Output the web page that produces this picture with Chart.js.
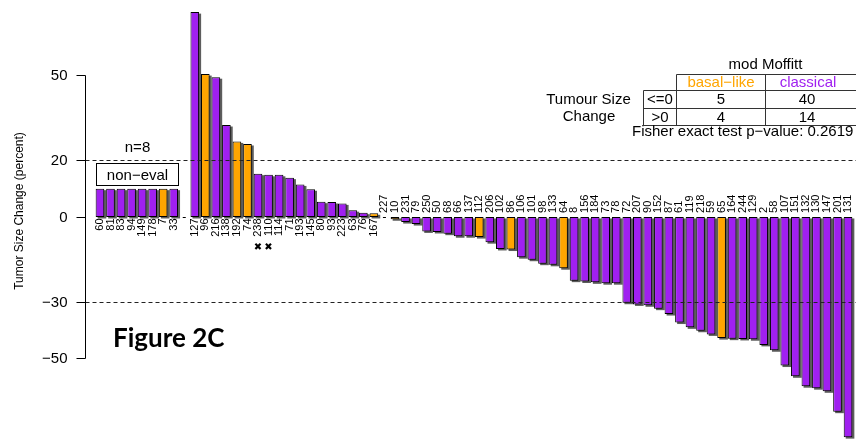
<!DOCTYPE html>
<html>
<head>
<meta charset="utf-8">
<script src="https://cdn.jsdelivr.net/npm/chart.js@4/dist/chart.umd.min.js"></script>
<style>
  html, body { margin: 0; padding: 0; background: #ffffff; }
  #wrap { width: 856px; height: 440px; position: relative; }
</style>
</head>
<body>
<div id="wrap"><canvas id="waterfall" width="856" height="440"></canvas></div>
<script>
// Patient IDs in plotting order: 8 non-evaluable, one empty spacer slot, then evaluable patients
const patientIds = [
  '60','81','83','94','149','178','7','33',
  '',
  '127','96','216','138','192','74','238','110','114','71','193','145','80','93','223','63','76','167',
  '227','10','231','79','250','50','68','66','137','112','206','102','86','106','101','98','133','64',
  '8','156','184','73','78','72','207','90','152','87','61','119','218','59','65','164','244','129',
  '2','58','107','151','132','130','147','201','131'
];

// Best change in tumour size (%); non-evaluable patients are drawn as placeholder bars at 10
const changePct = [
  10, 10, 10, 10, 10, 10, 10, 10,
  0,
  72.4, 50.5, 49.4, 32.5, 26.7, 25.8, 15.3, 14.9, 14.9, 13.9, 11.5, 9.8, 5.4, 5.3, 4.8, 2.4, 1.5, 1.3,
  0, -0.8, -1.8, -2.5, -5.1, -5.3, -5.9, -6.8, -6.8, -7.1, -8.9, -11.3, -11.5, -14.2, -15.1, -16.5, -16.9, -18.1,
  -22.5, -22.8, -23.1, -23.4, -23.4, -30.3, -30.9, -31.2, -32.4, -34.3, -37.3, -39.0, -40.2, -41.5, -42.8, -43.0, -43.1, -43.2,
  -45.2, -47.1, -52.5, -56.3, -59.8, -60.5, -61.6, -68.8, -77.8
];

// mod Moffitt subtype: B = basal-like, C = classical
const subtype = [
  'C','C','C','C','C','C','B','C',
  '',
  'C','B','C','C','B','B','C','C','C','C','C','C','C','C','C','C','C','B',
  'C','B','C','C','C','C','C','C','C','B','C','C','B','C','C','C','C','B',
  'C','C','C','C','C','C','C','C','C','C','C','C','C','C','B','C','C','C',
  'C','C','C','C','C','C','C','C','C'
];

const nonEvalCount = 8;
const flaggedIds = ['238', '110'];
const yTickValues = [50, 20, 0, -30, -50];
const refLineValues = [20, -30];

// Contingency table: rows = tumour size change, columns = subtype
const tableRowLabels = ['<=0', '>0'];
const basalCounts = [5, 4];
const classicalCounts = [40, 14];
const fisherP = '0.2619';

const PURPLE = '#A020F0';
const ORANGE = '#FFA500';
const FONT = '"Liberation Sans", Arial, Helvetica, sans-serif';

const barColors = subtype.map(s => (s === 'B' ? ORANGE : PURPLE));

function fmt(v) {
  return v < 0 ? '\u2212' + Math.abs(v) : String(v);
}

const decorations = {
  id: 'decorations',
  beforeDatasetsDraw(chart) {
    // drop shadow behind each bar, taken from the bar element geometry
    const ctx = chart.ctx;
    const meta = chart.getDatasetMeta(0);
    ctx.save();
    ctx.fillStyle = 'rgba(75,75,75,0.9)';
    meta.data.forEach((bar, i) => {
      if (changePct[i] === 0) return;
      const p = bar.getProps(['x', 'y', 'base', 'width'], true);
      const top = Math.min(p.y, p.base);
      const h = Math.abs(p.base - p.y);
      ctx.fillRect(p.x - p.width / 2 + 2, top + 1.5, p.width, h);
    });
    ctx.restore();
  },
  afterDatasetsDraw(chart) {
    const ctx = chart.ctx;
    const meta = chart.getDatasetMeta(0);
    const yS = chart.scales.y;
    const area = chart.chartArea;
    const y0 = yS.getPixelForValue(0);
    const axisX = Math.round(area.left - 10) + 0.5;

    ctx.save();

    // zero-height bars show as a short stub on the baseline
    ctx.strokeStyle = '#000';
    ctx.lineWidth = 1;
    meta.data.forEach((bar, i) => {
      if (changePct[i] !== 0) return;
      ctx.beginPath();
      ctx.moveTo(bar.x - 1.5, Math.round(y0) + 0.5);
      ctx.lineTo(bar.x + 1.5, Math.round(y0) + 0.5);
      ctx.stroke();
    });

    // reference lines
    ctx.strokeStyle = '#222';
    ctx.setLineDash([4, 3]);
    refLineValues.forEach(v => {
      const y = Math.round(yS.getPixelForValue(v)) + 0.5;
      ctx.beginPath();
      ctx.moveTo(axisX, y);
      ctx.lineTo(chart.width, y);
      ctx.stroke();
    });
    ctx.setLineDash([]);

    // y axis line, ticks and labels
    ctx.strokeStyle = '#000';
    ctx.beginPath();
    ctx.moveTo(axisX, yS.getPixelForValue(Math.max(...yTickValues)));
    ctx.lineTo(axisX, yS.getPixelForValue(Math.min(...yTickValues)));
    ctx.stroke();
    ctx.font = '15px ' + FONT;
    ctx.fillStyle = '#000';
    ctx.textAlign = 'right';
    ctx.textBaseline = 'middle';
    yTickValues.forEach(v => {
      const y = Math.round(yS.getPixelForValue(v)) + 0.5;
      ctx.beginPath();
      ctx.moveTo(axisX - 9, y);
      ctx.lineTo(axisX, y);
      ctx.stroke();
      ctx.fillText(fmt(v), axisX - 18, y);
    });

    // y axis title
    ctx.save();
    ctx.translate(20, 211);
    ctx.rotate(-Math.PI / 2);
    ctx.textAlign = 'center';
    ctx.font = '12px ' + FONT;
    ctx.fillText('Tumor Size Change (percent)', 0, 0);
    ctx.restore();

    // patient id labels, on the opposite side of the baseline from each bar
    ctx.font = '11px ' + FONT;
    ctx.textBaseline = 'middle';
    meta.data.forEach((bar, i) => {
      const id = patientIds[i];
      if (!id) return;
      const up = changePct[i] > 0;
      ctx.save();
      ctx.translate(bar.x, up ? y0 + 1.5 : y0 - 4);
      ctx.rotate(-Math.PI / 2);
      ctx.textAlign = up ? 'right' : 'left';
      ctx.fillText(id, 0, 0);
      ctx.restore();
      if (flaggedIds.includes(id)) {
        const w = ctx.measureText(id).width;
        ctx.save();
        ctx.font = 'bold 10px "DejaVu Sans", sans-serif';
        ctx.textAlign = 'center';
        ctx.fillText('\u2716', bar.x, y0 + 1.5 + w + 11);
        ctx.restore();
      }
    });

    // non-evaluable group annotation
    const first = meta.data[0];
    const last = meta.data[nonEvalCount - 1];
    const bx0 = Math.round(first.x - first.width / 2) + 0.5;
    const bx1 = Math.round(last.x + last.width / 2) + 0.5;
    const bBottom = Math.round(yS.getPixelForValue(changePct[0]) - 3.5) + 0.5;
    const bTop = bBottom - 22;
    ctx.fillStyle = '#fff';
    ctx.fillRect(bx0, bTop, bx1 - bx0, bBottom - bTop);
    ctx.strokeStyle = '#000';
    ctx.strokeRect(bx0, bTop, bx1 - bx0, bBottom - bTop);
    ctx.fillStyle = '#000';
    ctx.font = '15px ' + FONT;
    ctx.textAlign = 'center';
    ctx.textBaseline = 'middle';
    ctx.fillText('non\u2212eval', (bx0 + bx1) / 2, (bTop + bBottom) / 2 + 1);
    ctx.fillText('n=' + nonEvalCount, (bx0 + bx1) / 2, bTop - 16);

    // contingency table
    const colL = 643.5, colA = 676.5, colB = 765.5, colR = chart.width;
    const rows = [74.5, 90.5, 108.5, 125.5];
    ctx.strokeStyle = '#333';
    ctx.beginPath();
    ctx.moveTo(colA, rows[0]); ctx.lineTo(colR, rows[0]);
    for (let r = 1; r < rows.length; r++) {
      ctx.moveTo(colL, rows[r]); ctx.lineTo(colR, rows[r]);
    }
    ctx.moveTo(colA, rows[0]); ctx.lineTo(colA, rows[3]);
    ctx.moveTo(colB, rows[0]); ctx.lineTo(colB, rows[3]);
    ctx.moveTo(colL, rows[1]); ctx.lineTo(colL, rows[3]);
    ctx.stroke();

    ctx.font = '15px ' + FONT;
    ctx.textAlign = 'center';
    ctx.fillStyle = '#000';
    ctx.fillText('mod Moffitt', 765.5, 65);
    ctx.fillStyle = ORANGE;
    ctx.fillText('basal\u2212like', 721, 83);
    ctx.fillStyle = PURPLE;
    ctx.fillText('classical', 808, 83);
    ctx.fillStyle = '#000';
    const rowMid = [100, 117.5];
    tableRowLabels.forEach((lab, r) => {
      ctx.fillText(lab, 660, rowMid[r]);
      ctx.fillText(String(basalCounts[r]), 721, rowMid[r]);
      ctx.fillText(String(classicalCounts[r]), 807, rowMid[r]);
    });
    ctx.fillText('Tumour Size', 588.5, 100);
    ctx.fillText('Change', 589, 117);
    ctx.textAlign = 'left';
    ctx.fillText('Fisher exact test p\u2212value: ' + fisherP, 632, 132);

    // panel tag
    ctx.font = 'bold 26px Lato, "Open Sans", sans-serif';
    ctx.textBaseline = 'alphabetic';
    ctx.fillText('Figure 2C', 113, 346.5);

    ctx.restore();
  }
};

new Chart(document.getElementById('waterfall'), {
  type: 'bar',
  data: {
    labels: patientIds,
    datasets: [{
      data: changePct,
      backgroundColor: barColors,
      borderColor: '#000',
      borderWidth: 1,
      borderSkipped: false,
      barPercentage: 0.82,
      categoryPercentage: 1
    }]
  },
  options: {
    responsive: false,
    animation: false,
    devicePixelRatio: 1,
    layout: { padding: { left: 94.7, right: 2.7, top: 4.75, bottom: 2.3 } },
    scales: {
      x: { display: false },
      y: { display: false, min: -78, max: 75 }
    },
    plugins: {
      legend: { display: false },
      tooltip: { enabled: false }
    }
  },
  plugins: [decorations]
});
</script>
</body>
</html>
